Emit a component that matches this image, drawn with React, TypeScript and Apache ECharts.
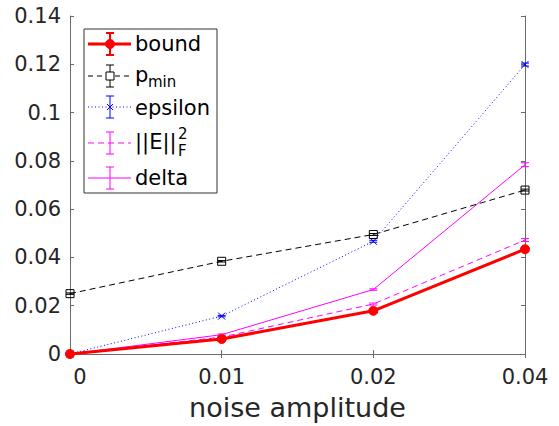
import React, { useEffect, useRef } from "react";
import * as echarts from "echarts";

const categories = ["0", "0.01", "0.02", "0.04"];
const yTicks = { min: 0, max: 0.14, interval: 0.02 };

const boundVals = [0, 0.0062, 0.0179, 0.0434];
const boundErr = [0.0006, 0.0006, 0.0008, 0.0008];
const pminVals = [0.025, 0.0384, 0.0495, 0.0679];
const pminErr = [0.0003, 0.0003, 0.0004, 0.0004];
const epsVals = [0, 0.0157, 0.0467, 0.1199];
const epsErr = [0.0002, 0.0003, 0.0004, 0.0006];
const eVals = [0, 0.0070, 0.0207, 0.0472];
const eErr = [0.0002, 0.0003, 0.0004, 0.0006];
const deltaVals = [0, 0.0080, 0.0267, 0.0784];
const deltaErr = [0.0002, 0.0003, 0.0003, 0.0008];

const FONT = "DejaVu Sans";

function errSeries(vals: number[], errs: number[], color: string, width: number) {
  return {
    type: "custom",
    silent: true,
    z: 3,
    data: vals.map((v, i) => [i, v, errs[i]]),
    encode: { x: 0, y: 1 },
    renderItem: (params: any, api: any) => {
      const i = api.value(0);
      const v = api.value(1);
      const e = api.value(2);
      const top = api.coord([i, v + e]);
      const bot = api.coord([i, v - e]);
      const hw = 4;
      const st = { stroke: color, lineWidth: width };
      return {
        type: "group",
        children: [
          { type: "line", shape: { x1: top[0], y1: top[1], x2: bot[0], y2: bot[1] }, style: st },
          { type: "line", shape: { x1: top[0] - hw, y1: top[1], x2: top[0] + hw, y2: top[1] }, style: st },
          { type: "line", shape: { x1: bot[0] - hw, y1: bot[1], x2: bot[0] + hw, y2: bot[1] }, style: st },
        ],
      };
    },
  };
}

function legendEntry(y: number, color: string, width: number, dash: any, marker: any[]) {
  const st = { stroke: color, lineWidth: width, lineDash: dash };
  const est = { stroke: color, lineWidth: width > 2 ? 2 : 1 };
  return [
    { type: "line", shape: { x1: 88, y1: y, x2: 131, y2: y }, style: st, z: 101 },
    { type: "line", shape: { x1: 110, y1: y - 11, x2: 110, y2: y + 11 }, style: est, z: 101 },
    { type: "line", shape: { x1: 106, y1: y - 11, x2: 114, y2: y - 11 }, style: est, z: 101 },
    { type: "line", shape: { x1: 106, y1: y + 11, x2: 114, y2: y + 11 }, style: est, z: 101 },
    ...marker,
  ];
}

export default function App() {
  const ref = useRef<HTMLDivElement>(null);
  useEffect(() => {
    if (!ref.current) return;
    document.body.style.margin = "0";
    const chart = echarts.init(ref.current, undefined, { renderer: "svg" });
    const axisColor = "#6b6b6b";
    const labelColor = "#262626";
    const xAxisBase = {
      type: "category",
      data: categories,
      boundaryGap: false,
      axisLine: { show: true, lineStyle: { color: axisColor, width: 1 } },
      axisTick: { show: true, inside: true, length: 4, lineStyle: { color: axisColor } },
      splitLine: { show: false },
    };
    const yAxisBase = {
      type: "value",
      min: yTicks.min,
      max: yTicks.max,
      interval: yTicks.interval,
      axisLine: { show: true, lineStyle: { color: axisColor, width: 1 } },
      axisTick: { show: true, inside: true, length: 4, lineStyle: { color: axisColor } },
      splitLine: { show: false },
    };
    const legendText = (x: number, y: number, text: string, size = 21) => ({
      type: "text",
      x,
      y,
      z: 101,
      style: { text, fill: "#000", font: `${size}px "${FONT}"`, textVerticalAlign: "middle" },
    });
    chart.setOption({
      animation: false,
      backgroundColor: "#fff",
      grid: { left: 70, right: 34, top: 16, bottom: 71 },
      xAxis: [
        {
          ...xAxisBase,
          position: "bottom",
          name: "noise amplitude",
          nameLocation: "middle",
          nameGap: 40,
          nameTextStyle: { fontFamily: FONT, fontSize: 27, color: labelColor },
          axisLabel: {
            fontFamily: FONT,
            fontSize: 21,
            color: labelColor,
            margin: 12,
            formatter: (v: string, i: number) => (i === 0 ? "{a|" + v + "}" : v),
            rich: { a: { fontFamily: FONT, fontSize: 21, color: labelColor, padding: [0, 0, 0, 20] } },
          },
        },
        { ...xAxisBase, position: "top", axisLabel: { show: false } },
      ],
      yAxis: [
        {
          ...yAxisBase,
          position: "left",
          axisLabel: {
            fontFamily: FONT,
            fontSize: 21,
            color: labelColor,
            margin: 9,
            formatter: (v: number) => String(parseFloat(v.toFixed(2))),
          },
        },
        { ...yAxisBase, position: "right", axisLabel: { show: false } },
      ],
      series: [
        {
          type: "line",
          name: "delta",
          data: deltaVals,
          symbol: "none",
          lineStyle: { color: "#ff00ff", width: 1 },
          z: 2,
        },
        errSeries(deltaVals, deltaErr, "#ff00ff", 1),
        {
          type: "line",
          name: "E",
          data: eVals,
          symbol: "none",
          lineStyle: { color: "#ff00ff", width: 1, type: [6, 4] },
          z: 2,
        },
        errSeries(eVals, eErr, "#ff00ff", 1),
        {
          type: "line",
          name: "epsilon",
          data: epsVals,
          symbol: "path://M0,0L10,10M10,0L0,10",
          symbolSize: 7,
          itemStyle: { color: "none", borderColor: "#0000ff", borderWidth: 1 },
          lineStyle: { color: "#0000ff", width: 1, type: [1, 2.5] },
          z: 2,
        },
        errSeries(epsVals, epsErr, "#0000ff", 1),
        {
          type: "line",
          name: "pmin",
          data: pminVals,
          symbol: "rect",
          symbolSize: 8,
          itemStyle: { color: "rgba(0,0,0,0)", borderColor: "#000", borderWidth: 1 },
          lineStyle: { color: "#000", width: 1, type: [6, 4] },
          z: 2,
        },
        errSeries(pminVals, pminErr, "#000", 1),
        {
          type: "line",
          name: "bound",
          data: boundVals,
          symbol: "circle",
          symbolSize: 9,
          itemStyle: { color: "#ff0000", borderColor: "#ff0000", borderWidth: 1 },
          lineStyle: { color: "#ff0000", width: 3 },
          z: 4,
        },
        { ...errSeries(boundVals, boundErr, "#ff0000", 2), z: 4 },
      ],
      graphic: [
        {
          type: "rect",
          shape: { x: 84, y: 29, width: 133, height: 164 },
          style: { fill: "#fff", stroke: "#333", lineWidth: 1 },
          z: 100,
        },
        ...legendEntry(44, "#ff0000", 3, null, [
          { type: "circle", shape: { cx: 110, cy: 44, r: 4.5 }, style: { fill: "#ff0000", stroke: "#ff0000" }, z: 102 },
        ]),
        legendText(135, 44, "bound"),
        ...legendEntry(76, "#000", 1, [5, 4], [
          { type: "rect", shape: { x: 106, y: 72, width: 8, height: 8 }, style: { fill: "#fff", stroke: "#000", lineWidth: 1 }, z: 102 },
        ]),
        legendText(135, 75, "p"),
        legendText(148, 82, "min", 15),
        ...legendEntry(107, "#0000ff", 1, [1, 2.5], [
          { type: "line", shape: { x1: 107, y1: 104, x2: 113, y2: 110 }, style: { stroke: "#0000ff", lineWidth: 1 }, z: 102 },
          { type: "line", shape: { x1: 113, y1: 104, x2: 107, y2: 110 }, style: { stroke: "#0000ff", lineWidth: 1 }, z: 102 },
        ]),
        legendText(135, 108, "epsilon"),
        ...legendEntry(143, "#ff00ff", 1, [6, 4], []),
        legendText(135, 142, "||E||"),
        legendText(178, 134, "2", 15),
        legendText(178, 151, "F", 15),
        ...legendEntry(178, "#ff00ff", 1, null, []),
        legendText(135, 178, "delta"),
      ],
    });
    return () => chart.dispose();
  }, []);
  return <div ref={ref} style={{ width: 559, height: 426 }} />;
}
